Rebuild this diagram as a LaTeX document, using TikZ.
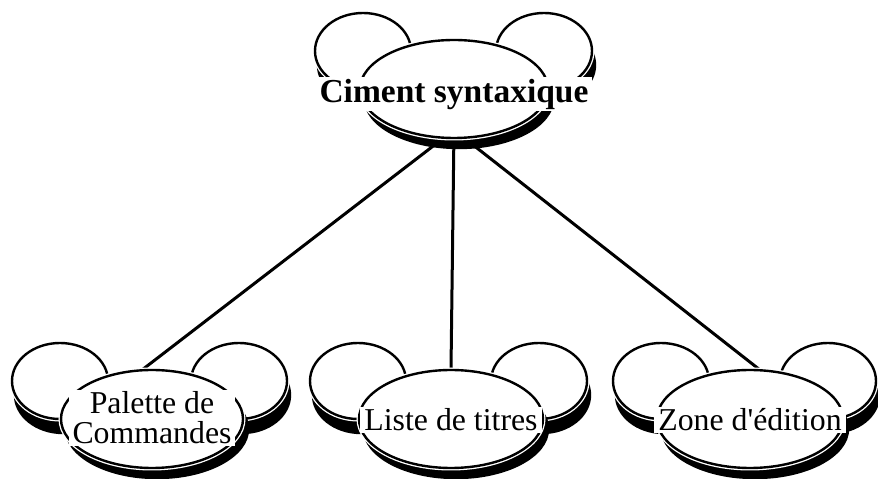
\documentclass[tikz,border=0pt]{standalone}
\usepackage{fontspec}
\setmainfont{Liberation Serif}[Ligatures=TeXOff]
\usetikzlibrary{positioning,calc,shapes.geometric,backgrounds}
\tikzset{
  contour/.style={line width=2.4pt},
  lien/.style={line width=3pt},
  ombre/.style={ellipse, inner sep=0pt, contour, draw=black, fill=black},
  tete/.style={ellipse, inner sep=0pt, contour, draw=black, fill=white,
    preaction={draw=white, line width=5pt}},
  titre/.style={fill=white, inner xsep=4pt, inner ysep=2pt, align=center,
    font=\fontsize{31.8}{30}\selectfont},
}
% one ear with its shadow
\newcommand{\oreille}[1]{%
  \filldraw[black, contour, shift={(3,-14)}] #1 ellipse (48pt and 38pt);
  \filldraw[white, line width=5pt] #1 ellipse (48pt and 38pt);
  \draw[contour] #1 ellipse (48pt and 38pt);
}
% ears, shadow and head: name, centre, head width, left ear, right ear
\newcommand{\souris}[5]{%
  \oreille{([shift={(#4,38)}]#2)}
  \oreille{([shift={(#5,38)}]#2)}
  \node[ombre, minimum width=#3, minimum height=98pt] at ([shift={(5,-10)}]#2) {};
  \node[tete, minimum width=#3, minimum height=98pt] (#1) at (#2) {};
}

\begin{document}
\begin{tikzpicture}[x=1pt,y=1pt]
  \useasboundingbox (0,0) rectangle (878,479);
  % the four heads
  \souris{ciment}{454,390}{188pt}{-91}{90}
  \souris{palette}{152,60}{182pt}{-92}{87}
  \souris{liste}{451,60}{184pt}{-93}{88}
  \souris{zone}{750,60}{186pt}{-89}{78}
  % texts
  \node[titre, font=\bfseries\fontsize{33.5}{34}\selectfont] (ciment-txt)
    at ([yshift=-5pt]ciment.center) {Ciment syntaxique};
  \node[titre] (palette-txt) at ([yshift=1pt]palette.center) {Palette de\\Commandes};
  \node[titre] (liste-txt) at ([yshift=-1pt]liste.center) {Liste de titres};
  \node[titre] (zone-txt) at ([yshift=-1pt]zone.center) {Zone d'édition};
  % links
  \coordinate (ciment-pied) at ([yshift=-41pt]ciment.center);
  \begin{scope}[on background layer]
    \draw[lien] (ciment-pied) -- (palette.100);
    \draw[lien] (ciment-pied) -- (liste.north);
    \draw[lien] (ciment-pied) -- (zone.80);
  \end{scope}
\end{tikzpicture}
\end{document}
